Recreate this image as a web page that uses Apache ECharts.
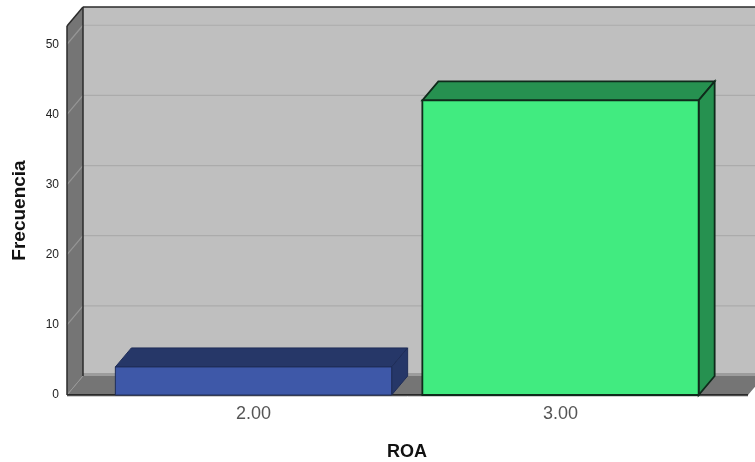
<!DOCTYPE html>
<html><head><meta charset="utf-8">
<style>html,body{margin:0;padding:0;background:#fff}#c{width:755px;height:462px}</style>
<script src="https://cdn.jsdelivr.net/npm/echarts@6/dist/echarts.min.js"></script>
</head><body><div id="c"></div>
<script>
const categories = ['2.00', '3.00'];
const frequencies = [4, 42];
const yTicks = [0, 10, 20, 30, 40, 50];
const yTop = 52.6;
const frontColors = ['#3E58A8', '#41EB80'];
const shadeColors = ['#263768', '#269150'];
const edgeColors = ['#1F2D58', '#0f2a1b'];
const depthX = 16, depthY = -19, wallLeft = 33, wallRight = 34;

function poly(points, fill, stroke, lw) {
  return { type: 'polygon', shape: { points }, style: { fill, stroke: stroke || null, lineWidth: lw || 0 } };
}
function seg(x1, y1, x2, y2, stroke, lw) {
  return { type: 'line', shape: { x1, y1, x2, y2 }, style: { stroke, lineWidth: lw } };
}
function renderWalls(params, api) {
  const cs = params.coordSys;
  const L = cs.x - wallLeft, R = cs.x + cs.width + wallRight;
  const B = api.coord([0, 0])[1], T = api.coord([0, yTop])[1];
  const bx = L + depthX, by = B + depthY, ty = T + depthY;
  const kids = [
    poly([[bx, ty], [R + depthX, ty], [R + depthX, by], [bx, by]], '#BFBFBF'),
    poly([[L, T], [bx, ty], [bx, by], [L, B]], '#757575'),
    poly([[L, B], [bx, by], [R + depthX, by], [R, B]], '#757575'),
    seg(bx, by - 1.5, R + depthX, by - 1.5, '#9C9C9C', 3)
  ];
  yTicks.slice(1).forEach(t => {
    const y = api.coord([0, t])[1];
    kids.push(seg(L, y, bx, y + depthY, '#969696', 1.2));
    kids.push(seg(bx, y + depthY, R + depthX, y + depthY, '#ABABAB', 1.2));
  });
  kids.push(seg(L, B, bx, by, '#979797', 1));
  kids.push(seg(L, B + 1.5, R, B + 1.5, '#D0D0D0', 1));
  kids.push(seg(L, B, R, B, '#111', 1.5));
  kids.push(seg(L, B, L, T, '#2b2b2b', 1.5));
  kids.push(seg(L, T, bx, ty, '#2b2b2b', 1.5));
  kids.push(seg(bx, ty, bx, by, '#2b2b2b', 1.5));
  kids.push(seg(bx, ty, R + depthX, ty, '#2b2b2b', 1.5));
  return { type: 'group', children: kids };
}
function renderBar(params, api) {
  const i = params.dataIndex;
  const top = api.coord([api.value(0), api.value(1)]);
  const base = api.coord([api.value(0), 0]);
  const w = api.size([1, 0])[0] * 0.9;
  const x0 = top[0] - w / 2, x1 = top[0] + w / 2, yt = top[1], yb = base[1];
  const e = edgeColors[i], lw = i === 1 ? 1.8 : 1;
  return { type: 'group', children: [
    poly([[x0, yt], [x0 + depthX, yt + depthY], [x1 + depthX, yt + depthY], [x1, yt]], shadeColors[i], e, lw),
    poly([[x1, yt], [x1 + depthX, yt + depthY], [x1 + depthX, yb + depthY], [x1, yb]], shadeColors[i], e, lw),
    poly([[x0, yt], [x1, yt], [x1, yb], [x0, yb]], frontColors[i], e, lw)
  ] };
}
const chart = echarts.init(document.getElementById('c'), null, { renderer: 'canvas' });
chart.setOption({
  animation: false,
  backgroundColor: '#fff',
  textStyle: { fontFamily: 'Liberation Sans' },
  grid: { left: 100, right: 41, top: 26, bottom: 67, outerBoundsMode: 'none', containLabel: false },
  xAxis: {
    type: 'category', data: categories,
    axisLine: { show: false }, axisTick: { show: false }, splitLine: { show: false },
    axisLabel: { fontSize: 18, color: '#555', margin: 10, fontFamily: 'Liberation Sans' },
    name: 'ROA', nameLocation: 'middle', nameGap: 48,
    nameTextStyle: { fontSize: 18, fontWeight: 'bold', color: '#111', fontFamily: 'Liberation Sans' }
  },
  yAxis: {
    type: 'value', min: 0, max: yTop, interval: 10,
    axisLine: { show: false }, axisTick: { show: false }, splitLine: { show: false },
    axisLabel: { fontSize: 12, color: '#222', margin: 41, showMaxLabel: false, padding: [2, 0, 0, 0], fontFamily: 'Liberation Sans' },
    name: 'Frecuencia', nameLocation: 'middle', nameGap: 71,
    nameTextStyle: { fontSize: 19, fontWeight: 'bold', color: '#111', fontFamily: 'Liberation Sans' }
  },
  series: [
    { type: 'custom', silent: true, clip: false, z: 1, renderItem: renderWalls, data: [[0, 0]] },
    { type: 'custom', silent: true, clip: false, z: 2, renderItem: renderBar,
      encode: { x: 0, y: 1 },
      data: categories.map((c, i) => [i, frequencies[i]]) }
  ]
});
</script></body></html>
